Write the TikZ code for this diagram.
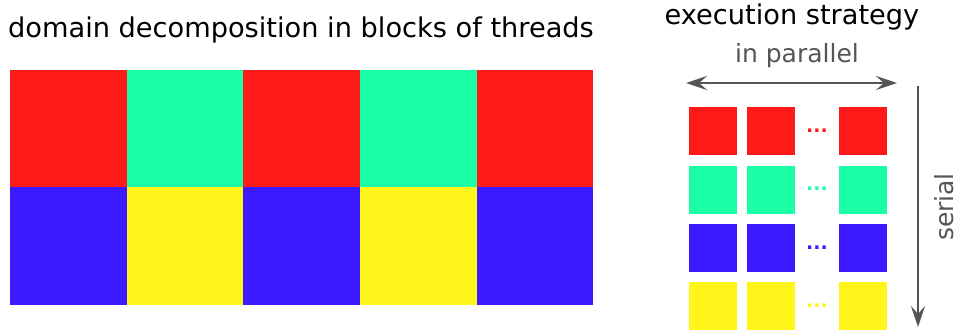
\documentclass[tikz,border=0pt]{standalone}
\usepackage{fontspec}
\setmainfont{DejaVu Sans}
\usetikzlibrary{arrows.meta}
\definecolor{cred}{RGB}{255,26,26}
\definecolor{cgreen}{RGB}{26,255,166}
\definecolor{cblue}{RGB}{60,26,255}
\definecolor{cyellow}{RGB}{255,245,26}
\definecolor{cgray}{RGB}{85,85,85}
\tikzset{
  bigcell/.style={fill=#1, draw=none, inner sep=0pt, minimum width=116.6pt, minimum height=118pt, anchor=north west},
  smallcell/.style={fill=#1, draw=none, inner sep=0pt, minimum width=48pt, minimum height=48pt, anchor=north west},
  dotsnode/.style={text=#1, font=\fontsize{19pt}{19pt}\selectfont\bfseries, inner sep=0pt, anchor=base},
  ahead/.tip={Stealth[length=21pt,width=14pt,inset=8pt]},
  grayarrow/.style={draw=cgray, line width=2.7pt},
  title/.style={font=\fontsize{27.2pt}{29pt}\selectfont, inner sep=0pt},
  graylabel/.style={text=cgray, font=\fontsize{25pt}{27pt}\selectfont, inner sep=0pt}
}
\begin{document}
\begin{tikzpicture}[x=1pt,y=-1pt]
\useasboundingbox (0,0) rectangle (958,330);
% left grid
\foreach \i/\ca/\cb in {0/cred/cblue,1/cgreen/cyellow,2/cred/cblue,3/cgreen/cyellow,4/cred/cblue}{
  \node[bigcell=\ca] (top\i) at ({10+116.6*\i},70) {};
  \node[bigcell=\cb] (bot\i) at ({10+116.6*\i},187) {};
}
\node[title] (t1) at (301,30) {domain decomposition in blocks of threads};
\node[title] (t2) at (792,17) {execution strategy};
% right squares
\foreach \r/\c in {0/cred,1/cgreen,2/cblue,3/cyellow}{
  \node[smallcell=\c] (a\r) at (689,{107+58.3*\r}) {};
  \node[smallcell=\c] (b\r) at (747,{107+58.3*\r}) {};
  \node[smallcell=\c] (c\r) at (839,{107+58.3*\r}) {};
  \node[dotsnode=\c] (d\r) at (817,{132.5+58.3*\r}) {...};
}
\node[graylabel] (par) at (797,56) {in parallel};
\node[graylabel, rotate=90] (ser) at (944,207) {serial};
\coordinate (hl) at (686,83);
\coordinate (hr) at (897,83);
\coordinate (vt) at (918,86);
\coordinate (vb) at (918,327);
\draw[grayarrow, ahead-ahead] (hl) -- (hr);
\draw[grayarrow, -ahead] (vt) -- (vb);
\end{tikzpicture}
\end{document}
